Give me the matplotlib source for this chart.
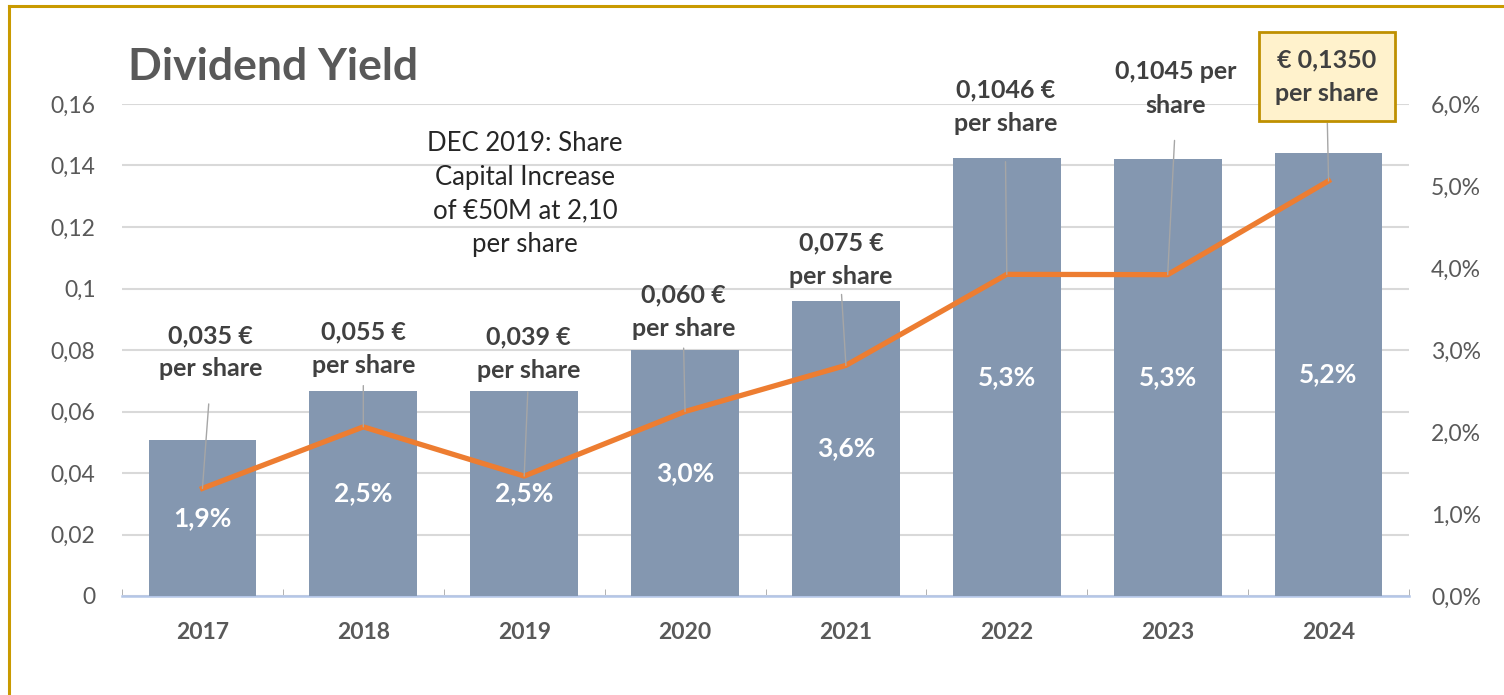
import matplotlib
matplotlib.use('Agg')
import matplotlib.pyplot as plt
from matplotlib.lines import Line2D
from matplotlib.ticker import FuncFormatter, MultipleLocator

plt.rcParams['font.family'] = ['Lato', 'DejaVu Sans']

# data
years = ['2017', '2018', '2019', '2020', '2021', '2022', '2023', '2024']
dividends = [0.035, 0.055, 0.039, 0.060, 0.075, 0.1046, 0.1045, 0.135]     # € per share, left axis
yields_pct = [1.9, 2.5, 2.5, 3.0, 3.6, 5.34, 5.33, 5.40]                    # %, right axis (bars)
yield_labels = ['1,9%', '2,5%', '2,5%', '3,0%', '3,6%', '5,3%', '5,3%', '5,2%']
dividend_labels = ['0,035 €\nper share', '0,055 €\nper share', '0,039 €\nper share',
                   '0,060 €\nper share', '0,075 €\nper share', '0,1046 €\nper share',
                   '0,1045 per\nshare', '€ 0,1350\nper share']
note = 'DEC 2019: Share\nCapital Increase\nof €50M at 2,10\nper share'

# label layout: x shift (categories), text centre (left-axis units), leader gap (pt)
lab_dx = [0.05, 0.0, 0.025, -0.01, -0.03, -0.01, 0.05, -0.01]
lab_y = [0.0793, 0.0803, 0.0787, 0.0925, 0.1095, 0.1590, 0.1650, 0.1690]
lab_gap = [15, 4, 5, 4, 3, 17, 15, 1]

GREY = '#595959'
BAR = '#8497b0'
ORANGE = '#ed7d31'

fig = plt.figure(figsize=(15.04, 6.95), dpi=100)
ax = fig.add_axes([122 / 1504, 99 / 695, 1287 / 1504, 492 / 695])
ax2 = ax.twinx()

x = list(range(len(years)))

# left axis: dividend scale + grid
ax.set_xlim(-0.5, len(years) - 0.5)
ax.set_ylim(0, 0.16)
ax.yaxis.set_major_locator(MultipleLocator(0.02))
ax.yaxis.set_major_formatter(FuncFormatter(lambda v, p: ('%g' % round(v, 2)).replace('.', ',')))
ax.grid(axis='y', color='#d9d9d9', lw=1.5)
ax.set_axisbelow(True)
for s in ['top', 'left', 'right']:
    ax.spines[s].set_visible(False)
ax.spines['bottom'].set_color('#b4c6e7')
ax.spines['bottom'].set_linewidth(1.8)
ax.tick_params(axis='y', length=0, pad=19, labelsize=16.5, labelcolor=GREY)
ax.set_xticks(x)
ax.set_xticklabels(years, fontsize=16.5, fontweight='bold', color=GREY)
ax.tick_params(axis='x', direction='in', length=3, color='#a6a6a6', pad=19)
ax.set_xticks([i - 0.5 for i in range(len(years) + 1)], minor=True)
ax.tick_params(axis='x', which='minor', direction='in', length=5, color='#a6a6a6')

# right axis: yield scale, bars
ax2.set_ylim(0, 6)
ax2.yaxis.set_major_locator(MultipleLocator(1))
ax2.yaxis.set_major_formatter(FuncFormatter(lambda v, p: ('%.1f%%' % v).replace('.', ',')))
for s in ax2.spines.values():
    s.set_visible(False)
ax2.tick_params(axis='y', length=0, pad=16, labelsize=16.5, labelcolor=GREY)
ax2.bar(x, yields_pct, width=0.67, color=BAR, zorder=2)
for i, (v, t) in enumerate(zip(yields_pct, yield_labels)):
    ax2.text(i, v / 2, t, ha='center', va='center', color='white',
             fontsize=19, fontweight='bold', zorder=3)

# dividend line drawn with the left-axis scale but above the bars
ax2.plot(x, dividends, color=ORANGE, lw=3.8, transform=ax.transData, zorder=4)

for i, (d, t) in enumerate(zip(dividends, dividend_labels)):
    box = None
    if i == len(years) - 1:
        box = dict(boxstyle='square,pad=0.65', fc='#fff2cc', ec='#bf9000', lw=2)
    ax2.annotate(t, xy=(i, d), xycoords=ax.transData,
                 xytext=(i + lab_dx[i], lab_y[i]), textcoords=ax.transData,
                 ha='center', va='center', fontsize=18, fontweight='bold',
                 color='#404040', linespacing=1.55, bbox=box, zorder=5,
                 annotation_clip=False,
                 arrowprops=dict(arrowstyle='-', color='#a6a6a6', lw=1,
                                 shrinkA=lab_gap[i], shrinkB=0, relpos=(0.5, 0)))

ax2.text(2.005, 0.1307, note, transform=ax.transData, ha='center', va='center',
         fontsize=18.5, color='#262626', linespacing=1.43, zorder=5)

fig.text(128 / 1504, 1 - 80 / 695, 'Dividend Yield', fontsize=32, fontweight='bold',
         color=GREY, va='baseline', ha='left')

# gold frame (left and top edges visible in the crop)
fig.add_artist(Line2D([9 / 1504, 9 / 1504], [0, 1 - 6 / 695], color='#c99a00', lw=2.2,
                      transform=fig.transFigure))
fig.add_artist(Line2D([9 / 1504, 1], [1 - 6 / 695, 1 - 6 / 695], color='#c99a00', lw=2.2,
                      transform=fig.transFigure))

fig.savefig('out.png', dpi=100)
